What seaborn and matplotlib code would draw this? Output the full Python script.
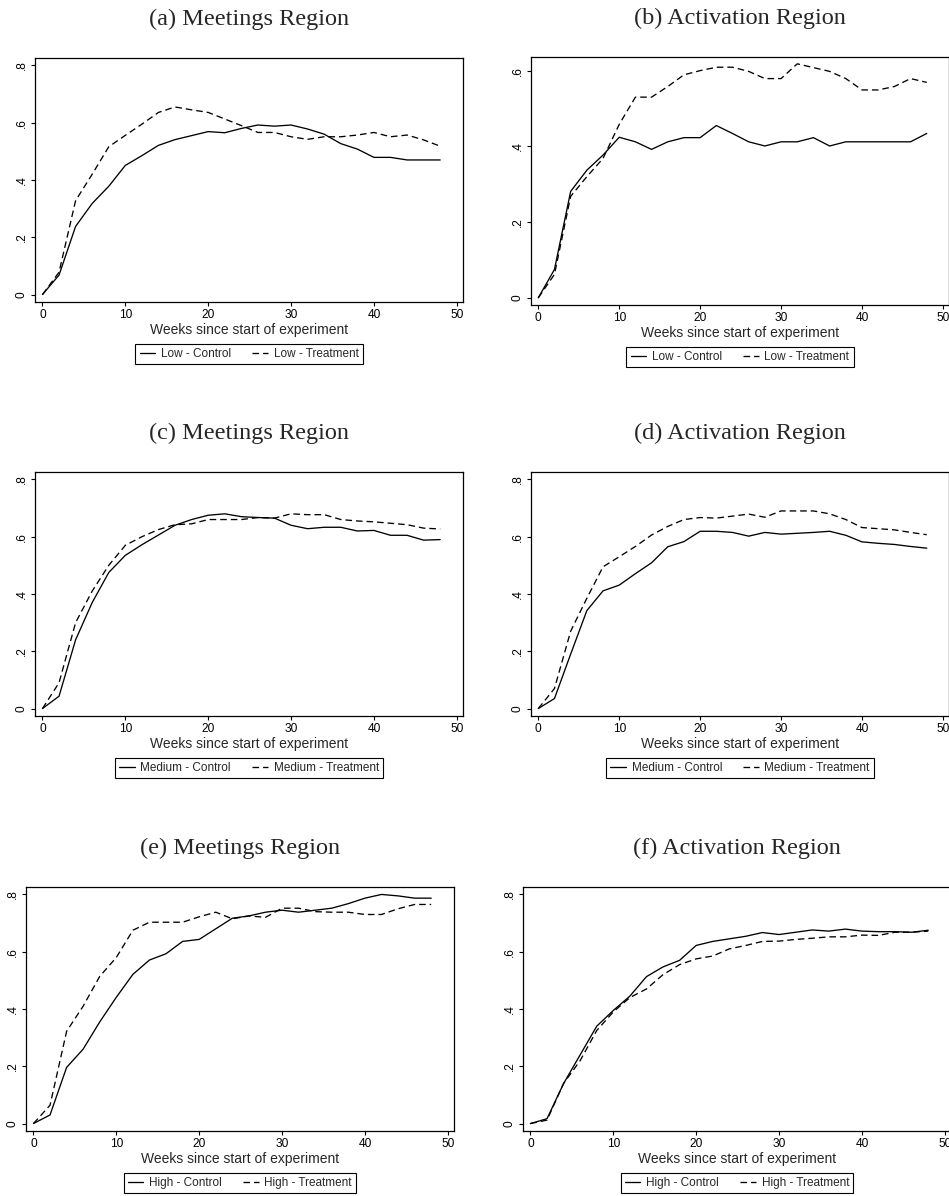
import pandas as pd
import matplotlib
matplotlib.use('Agg')
import matplotlib.pyplot as plt
import seaborn as sns

# weeks since start of experiment
weeks = [0, 2, 4, 6, 8, 10, 12, 14, 16, 18, 20, 22, 24,
         26, 28, 30, 32, 34, 36, 38, 40, 42, 44, 46, 48]

# (a) Meetings region, low
low_meet_control = [0, .068, .238, .318, .378, .451, .485, .521, .541, .555, .569, .565, .58,
                    .592, .588, .592, .578, .56, .527, .508, .479, .479, .47, .47, .47]
low_meet_treat = [0, .078, .328, .42, .516, .556, .595, .636, .655, .645, .636, .613, .59,
                  .566, .566, .551, .542, .551, .551, .557, .566, .551, .557, .54, .518]
# (b) Activation region, low
low_act_control = [0, .075, .281, .337, .377, .424, .412, .392, .412, .423, .423, .455, .434,
                   .412, .401, .412, .412, .423, .401, .412, .412, .412, .412, .412, .434]
low_act_treat = [0, .062, .268, .32, .368, .458, .53, .53, .558, .589, .6, .609, .609,
                 .598, .579, .579, .618, .608, .598, .579, .549, .549, .558, .579, .569]
# (c) Meetings region, medium
med_meet_control = [0, .043, .24, .37, .475, .535, .572, .606, .64, .66, .675, .68, .67,
                    .667, .665, .64, .628, .633, .633, .62, .622, .605, .605, .588, .59]
med_meet_treat = [0, .09, .30, .41, .50, .57, .60, .625, .642, .645, .66, .66, .66,
                  .667, .665, .68, .677, .677, .66, .655, .652, .647, .642, .63, .627]
# (d) Activation region, medium
med_act_control = [0, .035, .19, .342, .411, .431, .471, .509, .565, .583, .619, .619, .615,
                   .602, .615, .609, .612, .615, .619, .605, .582, .577, .573, .566, .56]
med_act_treat = [0, .07, .27, .385, .495, .53, .566, .606, .636, .66, .667, .665, .672,
                 .679, .668, .69, .69, .69, .68, .66, .632, .628, .624, .615, .607]
# (e) Meetings region, high
high_meet_control = [0, .03, .196, .26, .355, .441, .521, .571, .593, .636, .643, .68, .717,
                     .725, .738, .745, .738, .745, .752, .768, .787, .80, .795, .787, .787]
high_meet_treat = [0, .064, .322, .41, .514, .58, .675, .703, .703, .703, .722, .738, .715,
                   .725, .72, .752, .752, .74, .738, .738, .73, .73, .75, .765, .765]
# (f) Activation region, high
high_act_control = [0, .017, .14, .24, .34, .395, .445, .513, .547, .57, .622, .636, .645,
                    .654, .667, .66, .668, .676, .672, .679, .672, .67, .67, .668, .675]
high_act_treat = [0, .012, .14, .22, .325, .39, .44, .47, .52, .555, .575, .585, .61,
                  .622, .636, .637, .643, .647, .652, .652, .658, .657, .668, .668, .672]

xticks = [0, 10, 20, 30, 40, 50]
yticks_full = [0, .2, .4, .6, .8]
yticks_short = [0, .2, .4, .6]

sns.set_style('ticks')
plt.rcParams['font.family'] = ['Liberation Sans', 'DejaVu Sans']
plt.rcParams['axes.edgecolor'] = 'black'
plt.rcParams['xtick.color'] = 'black'
plt.rcParams['ytick.color'] = 'black'

W, H = 949, 1196
fig = plt.figure(figsize=(W / 100, H / 100), dpi=100)


def add_panel(left, top, width, height, ylim, yticks, title, level, control, treat):
    ax = fig.add_axes([left / W, 1 - (top + height) / H, width / W, height / H])
    lab_c = f'{level} - Control'
    lab_t = f'{level} - Treatment'
    df = pd.DataFrame({
        'week': weeks + weeks,
        'share': control + treat,
        'group': [lab_c] * len(weeks) + [lab_t] * len(weeks),
    })
    sns.lineplot(data=df, x='week', y='share', style='group',
                 style_order=[lab_c, lab_t],
                 dashes={lab_c: '', lab_t: (5, 3)},
                 color='black', linewidth=0.95, ax=ax)
    ax.set_xlim(-0.9, 50.75)
    ax.set_ylim(*ylim)
    ax.set_xticks(xticks)
    ax.set_yticks(yticks)
    ax.set_yticklabels(['0' if v == 0 else ('%.1f' % v)[1:] for v in yticks],
                       rotation=90, va='center')
    ax.tick_params(direction='out', length=3.2, width=0.8, labelsize=8.6, pad=2)
    for sp in ax.spines.values():
        sp.set_linewidth(0.9)
        sp.set_visible(True)
    ax.set_ylabel('')
    ax.set_xlabel('Weeks since start of experiment', fontsize=10, labelpad=1)
    ax.text(0.5, 1 + 39 / height, title, transform=ax.transAxes, ha='center', va='center',
            fontsize=17.5, family=['Liberation Serif', 'DejaVu Serif'])

    # legend below the plot, Stata style
    old = ax.get_legend()
    handles = old.legend_handles
    labels = [t.get_text() for t in old.get_texts()]
    old.remove()
    leg = ax.legend(handles, labels, loc='upper center', bbox_to_anchor=(0.5, -36 / height),
                    ncol=2, frameon=True, fancybox=False, edgecolor='black', framealpha=1,
                    fontsize=8.5, handlelength=1.3, handletextpad=0.5, columnspacing=1.8,
                    borderpad=0.35)
    leg.get_frame().set_linewidth(0.8)
    return ax


ylim_full = (-0.026, 0.826)
add_panel(35, 58, 428, 244, ylim_full, yticks_full, '(a) Meetings Region', 'Low',
          low_meet_control, low_meet_treat)
add_panel(531, 57, 418, 248, (-0.019, 0.636), yticks_short, '(b) Activation Region', 'Low',
          low_act_control, low_act_treat)
add_panel(35, 472, 428, 244, ylim_full, yticks_full, '(c) Meetings Region', 'Medium',
          med_meet_control, med_meet_treat)
add_panel(531, 472, 418, 244, ylim_full, yticks_full, '(d) Activation Region', 'Medium',
          med_act_control, med_act_treat)
add_panel(26, 887, 428, 244, ylim_full, yticks_full, '(e) Meetings Region', 'High',
          high_meet_control, high_meet_treat)
add_panel(523, 887, 428, 244, ylim_full, yticks_full, '(f) Activation Region', 'High',
          high_act_control, high_act_treat)

fig.savefig('out.png', dpi=100)
